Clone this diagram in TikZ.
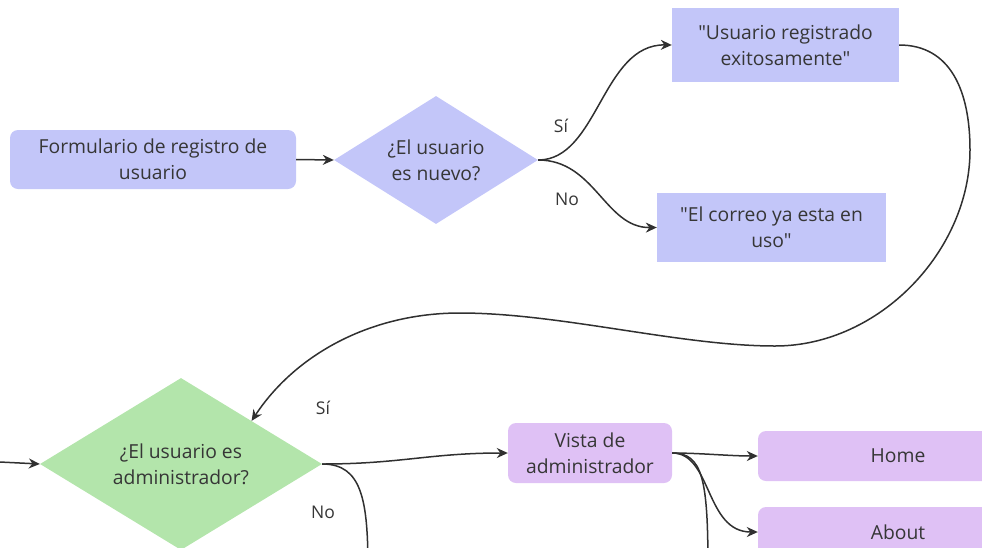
\documentclass[tikz,border=0pt]{standalone}
\usepackage{fontspec}
\setmainfont{Open Sans}[Ligatures=TeXOff]
\usetikzlibrary{shapes.geometric,arrows.meta}
\definecolor{flowblue}{HTML}{C3C6F9}
\definecolor{flowgreen}{HTML}{B3E5AB}
\definecolor{flowpurple}{HTML}{DFC1F5}
\definecolor{ink}{HTML}{363636}
\definecolor{wire}{HTML}{303030}
\begin{document}
\begin{tikzpicture}[x=1pt,y=-1pt,
  txt/.style={font=\fontsize{19.3}{26}\selectfont, text=ink, align=center},
  bluebox/.style={txt, rectangle, fill=flowblue, inner sep=0pt},
  roundbox/.style={txt, rectangle, rounded corners=8pt, inner sep=0pt},
  decision/.style={txt, diamond, inner sep=0pt},
  lbl/.style={font=\fontsize{17.5}{20}\selectfont, text=ink},
  link/.style={draw=wire, line width=1.5pt, -{Stealth[length=11pt,width=10pt]}},
  plain/.style={draw=wire, line width=1.5pt}]
\useasboundingbox (0,0) rectangle (982,547);
\clip (0,0) rectangle (982,547);

% registration check
\node[roundbox, fill=flowblue, minimum width=286pt, minimum height=59pt]
  (form) at (153,159.5) {Formulario de registro de\\usuario};
\node[decision, fill=flowblue, minimum width=204pt, minimum height=128pt, aspect=1.6]
  (isnew) at (436,160) {¿El usuario\\es nuevo?};
\node[bluebox, minimum width=227pt, minimum height=74pt]
  (ok) at (785.5,45) {"Usuario registrado\\exitosamente"};
\node[bluebox, minimum width=229pt, minimum height=69pt]
  (taken) at (771.5,227.5) {"El correo ya esta en\\uso"};

% role check
\node[decision, fill=flowgreen, minimum width=282pt, minimum height=172pt, aspect=1.64]
  (isadmin) at (181,464) {¿El usuario es\\administrador?};
\node[roundbox, fill=flowpurple, minimum width=164pt, minimum height=60pt]
  (admin) at (590,453) {Vista de\\administrador};
\node[roundbox, fill=flowpurple, minimum width=280pt, minimum height=50pt]
  (home) at (898,456) {Home};
\node[roundbox, fill=flowpurple, minimum width=280pt, minimum height=50pt]
  (about) at (898,532) {About};

\coordinate (inflow) at (-20,461);
\coordinate (nobranch) at (368,570);
\coordinate (moreviews) at (708,570);

% connectors
\draw[link] (form.east) -- (isnew.west);
\draw[link] (isnew.east) .. controls (598,160) and (602,44) .. (ok.west);
\draw[link] (isnew.east) .. controls (595,160) and (605,228) .. (taken.west);
\draw[link] (ok.east) .. controls (950,45) and (970,90) .. (970,150)
  .. controls (970,250) and (880,346) .. (775,346)
  .. controls (680,346) and (560,313) .. (460,313)
  .. controls (370,313) and (295,355) .. (isadmin.north east);
\draw[link] (inflow) -- (isadmin.west);
\draw[link] (isadmin.east) .. controls (400,464) and (430,453) .. (admin.west);
\draw[plain] (isadmin.east) .. controls (362,464) and (368,500) .. (nobranch);
\draw[link] (admin.east) .. controls (700,453) and (730,456) .. (home.west);
\draw[link] (admin.east) .. controls (712,453) and (705,532) .. (about.west);
\draw[plain] (admin.east) .. controls (703,453) and (708,480) .. (moreviews);

% branch labels
\node[lbl] (yes1) at (561,126) {Sí};
\node[lbl] (no1) at (567,199) {No};
\node[lbl] (yes2) at (323,408) {Sí};
\node[lbl] (no2) at (323,512) {No};
\end{tikzpicture}
\end{document}
